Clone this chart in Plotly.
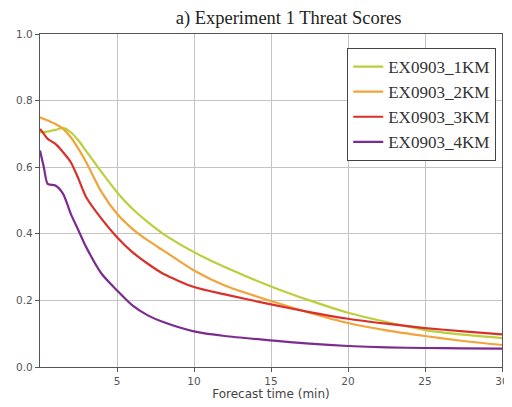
import plotly.graph_objects as go

time_min = [0, 0.25, 0.5, 1, 1.5, 2, 2.5, 3, 4, 5, 6, 7, 8, 10, 12, 15, 17.5, 20, 22.5, 25, 27.5, 30]

ts_1km = [0.705, 0.706, 0.707, 0.712, 0.718, 0.705, 0.68, 0.648, 0.585, 0.525, 0.475, 0.435, 0.40, 0.345, 0.30, 0.242, 0.20, 0.163, 0.135, 0.111, 0.097, 0.087]
ts_2km = [0.75, 0.745, 0.74, 0.73, 0.715, 0.69, 0.655, 0.615, 0.525, 0.46, 0.415, 0.38, 0.35, 0.29, 0.245, 0.198, 0.163, 0.132, 0.11, 0.093, 0.078, 0.066]
ts_3km = [0.715, 0.70, 0.685, 0.67, 0.645, 0.615, 0.565, 0.51, 0.445, 0.39, 0.345, 0.31, 0.28, 0.24, 0.218, 0.188, 0.165, 0.145, 0.13, 0.117, 0.107, 0.098]
ts_4km = [0.65, 0.60, 0.55, 0.545, 0.52, 0.46, 0.41, 0.36, 0.28, 0.23, 0.185, 0.155, 0.135, 0.107, 0.093, 0.08, 0.07, 0.063, 0.059, 0.057, 0.056, 0.055]

series_names = ["EX0903_1KM", "EX0903_2KM", "EX0903_3KM", "EX0903_4KM"]
series_values = [ts_1km, ts_2km, ts_3km, ts_4km]
colors = ["#bccf3a", "#f2a33a", "#d9302a", "#7c2b8e"]

x_ticks = [5, 10, 15, 20, 25, 30]
y_ticks = [0.0, 0.2, 0.4, 0.6, 0.8, 1.0]

fig = go.Figure()
for name, vals, col in zip(series_names, series_values, colors):
    fig.add_trace(go.Scatter(
        x=time_min, y=vals, name=name, mode="lines",
        line=dict(color=col, width=2.2, shape="spline", smoothing=0.7),
        legendgroup=name,
    ))

axis_common = dict(
    showgrid=True, gridcolor="#c4c4c4", gridwidth=1,
    showline=True, linecolor="#555555", linewidth=1.3, mirror=True,
    ticks="outside", ticklen=4, tickcolor="#555555",
    tickfont=dict(family="DejaVu Sans", size=10.5, color="#555555"),
    zeroline=False, ticklabeloverflow="allow",
)

fig.update_xaxes(range=[0, 30], tickvals=x_ticks, **axis_common,
                 title=dict(text="Forecast time (min)", font=dict(family="DejaVu Sans", size=12, color="#444444"), standoff=2))
fig.update_yaxes(range=[0, 1], tickvals=y_ticks, tickformat=".1f", **axis_common)

# page body has an 8px margin, so the figure is sized/offset to compensate
fig.update_layout(
    width=504, height=399,
    margin=dict(l=32, r=10, t=26, b=40, autoexpand=False),
    paper_bgcolor="white", plot_bgcolor="white",
    title=dict(text="a) Experiment 1 Threat Scores", x=0.538, xref="paper", xanchor="center",
               y=0.975, yanchor="middle",
               font=dict(family="Liberation Serif", size=18.5, color="#222222")),
    legend=dict(x=0.665, y=0.958, xanchor="left", yanchor="top",
                bordercolor="#444444", borderwidth=1, bgcolor="white",
                font=dict(family="Liberation Serif", size=17, color="#333333"),
                tracegroupgap=0),
    showlegend=True,
)

fig.write_html("out.html")
